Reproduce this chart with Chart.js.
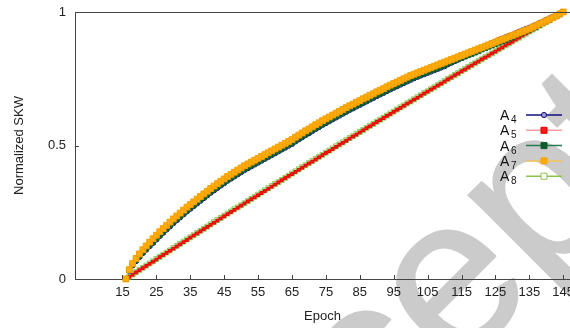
<!DOCTYPE html>
<html>
<head>
<meta charset="utf-8">
<script src="https://cdn.jsdelivr.net/npm/chart.js@4.4.0/dist/chart.umd.min.js"></script>
<style>
  html, body { margin: 0; padding: 0; background: #fff; overflow: hidden; }
  #wrap { width: 570px; height: 328px; }
</style>
</head>
<body>
<div id="wrap"><canvas id="skwChart" width="570" height="328"></canvas></div>
<script>
// Epochs (x) and tick labels
const epochs = [
  16, 17, 18, 19, 20, 21, 22, 23, 24, 25,
  26, 27, 28, 29, 30, 31, 32, 33, 34, 35,
  36, 37, 38, 39, 40, 41, 42, 43, 44, 45,
  46, 47, 48, 49, 50, 51, 52, 53, 54, 55,
  56, 57, 58, 59, 60, 61, 62, 63, 64, 65,
  66, 67, 68, 69, 70, 71, 72, 73, 74, 75,
  76, 77, 78, 79, 80, 81, 82, 83, 84, 85,
  86, 87, 88, 89, 90, 91, 92, 93, 94, 95,
  96, 97, 98, 99, 100, 101, 102, 103, 104, 105,
  106, 107, 108, 109, 110, 111, 112, 113, 114, 115,
  116, 117, 118, 119, 120, 121, 122, 123, 124, 125,
  126, 127, 128, 129, 130, 131, 132, 133, 134, 135,
  136, 137, 138, 139, 140, 141, 142, 143, 144, 145
]
const xTicks = [15, 25, 35, 45, 55, 65, 75, 85, 95, 105, 115, 125, 135, 145]
const yTicks = [0, 0.5, 1]

// Normalized SKW per epoch
const a4 = [
  0.000, 0.031, 0.051, 0.067, 0.082, 0.097, 0.110, 0.123, 0.135, 0.148,
  0.161, 0.173, 0.185, 0.197, 0.209, 0.220, 0.231, 0.242, 0.253, 0.263,
  0.273, 0.283, 0.293, 0.303, 0.313, 0.323, 0.332, 0.341, 0.350, 0.359,
  0.368, 0.376, 0.384, 0.392, 0.400, 0.408, 0.415, 0.422, 0.429, 0.436,
  0.443, 0.450, 0.457, 0.464, 0.471, 0.478, 0.485, 0.492, 0.499, 0.506,
  0.515, 0.523, 0.531, 0.539, 0.546, 0.554, 0.562, 0.569, 0.577, 0.584,
  0.591, 0.598, 0.605, 0.612, 0.619, 0.626, 0.633, 0.639, 0.646, 0.652,
  0.659, 0.665, 0.672, 0.678, 0.685, 0.691, 0.697, 0.704, 0.710, 0.716,
  0.722, 0.728, 0.734, 0.740, 0.746, 0.752, 0.757, 0.762, 0.767, 0.772,
  0.777, 0.782, 0.787, 0.792, 0.797, 0.804, 0.810, 0.816, 0.822, 0.828,
  0.834, 0.840, 0.846, 0.852, 0.858, 0.865, 0.871, 0.877, 0.883, 0.889,
  0.895, 0.900, 0.905, 0.910, 0.915, 0.920, 0.926, 0.931, 0.936, 0.941,
  0.946, 0.952, 0.958, 0.964, 0.970, 0.976, 0.982, 0.988, 0.994, 1.000
]
const a5 = [
  0.000, 0.008, 0.016, 0.025, 0.033, 0.041, 0.049, 0.057, 0.065, 0.073,
  0.082, 0.090, 0.098, 0.106, 0.114, 0.122, 0.130, 0.138, 0.146, 0.155,
  0.163, 0.171, 0.179, 0.187, 0.195, 0.203, 0.211, 0.219, 0.227, 0.235,
  0.243, 0.251, 0.259, 0.267, 0.275, 0.283, 0.291, 0.299, 0.306, 0.314,
  0.322, 0.330, 0.338, 0.346, 0.354, 0.362, 0.370, 0.378, 0.386, 0.393,
  0.401, 0.409, 0.417, 0.425, 0.433, 0.440, 0.448, 0.456, 0.464, 0.472,
  0.479, 0.487, 0.495, 0.503, 0.510, 0.518, 0.526, 0.534, 0.541, 0.549,
  0.557, 0.565, 0.572, 0.580, 0.588, 0.595, 0.603, 0.611, 0.618, 0.626,
  0.634, 0.641, 0.649, 0.657, 0.664, 0.672, 0.679, 0.687, 0.695, 0.702,
  0.710, 0.717, 0.725, 0.732, 0.740, 0.748, 0.755, 0.763, 0.770, 0.778,
  0.785, 0.793, 0.800, 0.808, 0.815, 0.823, 0.830, 0.837, 0.845, 0.852,
  0.860, 0.867, 0.875, 0.882, 0.889, 0.897, 0.904, 0.912, 0.919, 0.926,
  0.934, 0.941, 0.948, 0.956, 0.963, 0.971, 0.978, 0.985, 0.993, 1.000
]
const a6 = [
  0.000, 0.033, 0.054, 0.071, 0.086, 0.101, 0.114, 0.127, 0.139, 0.152,
  0.165, 0.177, 0.189, 0.201, 0.213, 0.224, 0.235, 0.246, 0.257, 0.267,
  0.277, 0.287, 0.297, 0.307, 0.317, 0.327, 0.336, 0.345, 0.354, 0.363,
  0.372, 0.380, 0.388, 0.396, 0.404, 0.412, 0.419, 0.426, 0.433, 0.440,
  0.447, 0.454, 0.461, 0.468, 0.475, 0.482, 0.489, 0.496, 0.503, 0.510,
  0.519, 0.527, 0.535, 0.543, 0.550, 0.558, 0.566, 0.573, 0.581, 0.588,
  0.595, 0.602, 0.609, 0.616, 0.623, 0.630, 0.637, 0.643, 0.650, 0.656,
  0.663, 0.669, 0.676, 0.682, 0.689, 0.695, 0.701, 0.708, 0.714, 0.720,
  0.726, 0.732, 0.738, 0.744, 0.750, 0.756, 0.761, 0.766, 0.771, 0.776,
  0.781, 0.786, 0.791, 0.796, 0.801, 0.808, 0.813, 0.818, 0.823, 0.828,
  0.833, 0.838, 0.843, 0.848, 0.853, 0.860, 0.865, 0.870, 0.875, 0.880,
  0.885, 0.890, 0.895, 0.900, 0.905, 0.913, 0.918, 0.923, 0.928, 0.933,
  0.939, 0.945, 0.951, 0.959, 0.965, 0.971, 0.977, 0.984, 0.991, 1.000
]
const a7 = [
  0.000, 0.035, 0.058, 0.077, 0.094, 0.110, 0.124, 0.138, 0.151, 0.164,
  0.177, 0.189, 0.201, 0.213, 0.225, 0.236, 0.247, 0.258, 0.269, 0.279,
  0.289, 0.299, 0.309, 0.319, 0.329, 0.339, 0.348, 0.357, 0.366, 0.375,
  0.384, 0.392, 0.400, 0.408, 0.416, 0.424, 0.431, 0.438, 0.445, 0.452,
  0.459, 0.466, 0.473, 0.480, 0.487, 0.494, 0.501, 0.508, 0.515, 0.522,
  0.531, 0.539, 0.547, 0.555, 0.562, 0.570, 0.578, 0.585, 0.593, 0.600,
  0.607, 0.614, 0.621, 0.628, 0.635, 0.642, 0.649, 0.655, 0.662, 0.668,
  0.675, 0.681, 0.688, 0.694, 0.701, 0.707, 0.713, 0.720, 0.726, 0.732,
  0.738, 0.744, 0.750, 0.756, 0.762, 0.767, 0.772, 0.777, 0.782, 0.787,
  0.792, 0.797, 0.802, 0.807, 0.812, 0.817, 0.822, 0.827, 0.832, 0.837,
  0.842, 0.847, 0.852, 0.857, 0.862, 0.867, 0.872, 0.877, 0.882, 0.887,
  0.892, 0.897, 0.902, 0.907, 0.912, 0.917, 0.922, 0.927, 0.932, 0.937,
  0.943, 0.949, 0.955, 0.961, 0.967, 0.973, 0.979, 0.986, 0.993, 1.000
]
const a8 = [
  0.000, 0.009, 0.017, 0.026, 0.034, 0.042, 0.050, 0.058, 0.066, 0.075,
  0.083, 0.091, 0.099, 0.107, 0.116, 0.124, 0.132, 0.140, 0.148, 0.156,
  0.164, 0.172, 0.180, 0.188, 0.196, 0.205, 0.213, 0.221, 0.229, 0.237,
  0.245, 0.253, 0.261, 0.268, 0.276, 0.284, 0.292, 0.300, 0.308, 0.316,
  0.324, 0.332, 0.340, 0.348, 0.356, 0.363, 0.371, 0.379, 0.387, 0.395,
  0.403, 0.411, 0.419, 0.426, 0.434, 0.442, 0.450, 0.458, 0.465, 0.473,
  0.481, 0.489, 0.497, 0.504, 0.512, 0.520, 0.528, 0.535, 0.543, 0.551,
  0.558, 0.566, 0.574, 0.581, 0.589, 0.597, 0.604, 0.612, 0.620, 0.627,
  0.635, 0.643, 0.650, 0.658, 0.665, 0.673, 0.681, 0.688, 0.696, 0.703,
  0.711, 0.718, 0.726, 0.733, 0.741, 0.749, 0.756, 0.764, 0.771, 0.779,
  0.786, 0.794, 0.801, 0.808, 0.816, 0.823, 0.831, 0.838, 0.845, 0.853,
  0.860, 0.868, 0.875, 0.882, 0.890, 0.897, 0.904, 0.912, 0.919, 0.927,
  0.934, 0.941, 0.949, 0.956, 0.963, 0.971, 0.978, 0.985, 0.993, 1.000
]

const seriesNames = ['A4', 'A5', 'A6', 'A7', 'A8']
const watermarkText = 'Accepted'

const FONT = '"Liberation Sans", Arial, sans-serif'
const AXIS_COLOR = '#444444'

const toPoints = (vals) => vals.map((v, i) => ({ x: epochs[i], y: v }))

// Series styles (line colour, marker)
const styles = [
  { line: '#10107a', fill: '#9a9ad8', stroke: '#10107a', shape: 'circle', r: 2.6, legendR: 2.6, order: 2 },
  { line: '#f2a0a0', fill: '#ff1a1a', stroke: '#e00000', shape: 'rect', r: 2.0, legendR: 3, order: 3 },
  { line: '#2a7a4e', fill: '#0d5c2e', stroke: '#0d5c2e', shape: 'rect', r: 3.4, legendR: 3, order: 1 },
  { line: '#f4c25a', fill: '#ffab0a', stroke: '#f5a000', shape: 'rect', r: 4.1, legendR: 3, order: 0 },
  { line: '#8cc34a', fill: 'rgba(255,255,255,0)', stroke: '#8cc650', shape: 'rect', r: 3.4, legendR: 3, order: 4 }
]
const seriesValues = [a4, a5, a6, a7, a8]

const datasets = seriesNames.map((name, i) => ({
  label: name,
  data: toPoints(seriesValues[i]),
  borderColor: styles[i].line,
  borderWidth: 1,
  pointStyle: styles[i].shape,
  pointRadius: styles[i].r,
  pointBackgroundColor: styles[i].fill,
  pointBorderColor: styles[i].stroke,
  pointBorderWidth: 1,
  fill: false,
  tension: 0,
  clip: false,
  order: styles[i].order
}))

// Big grey watermark behind everything (only "ep" of it falls in view)
const watermark = {
  id: 'watermark',
  beforeDraw(chart) {
    const { ctx } = chart
    ctx.save()
    ctx.font = '220px ' + FONT
    const lead = ctx.measureText('Acc').width
    ctx.translate(454, 374)
    ctx.rotate(-Math.PI / 4)
    ctx.fillStyle = '#cbcbcb'
    ctx.strokeStyle = '#cbcbcb'
    ctx.lineWidth = 2
    ctx.lineJoin = 'round'
    ctx.textBaseline = 'alphabetic'
    ctx.fillText(watermarkText, -lead, 0)
    ctx.strokeText(watermarkText, -lead, 0)
    ctx.restore()
  }
}

// Top border and inward tick marks
const frame = {
  id: 'frame',
  afterDraw(chart) {
    const { ctx, chartArea } = chart
    const xs = chart.scales.x
    const ys = chart.scales.y
    ctx.save()
    ctx.strokeStyle = AXIS_COLOR
    ctx.lineWidth = 1
    ctx.beginPath()
    ctx.moveTo(chartArea.left, chartArea.top + 0.5)
    ctx.lineTo(chartArea.right, chartArea.top + 0.5)
    xTicks.forEach((t) => {
      const px = Math.round(xs.getPixelForValue(t)) + 0.5
      ctx.moveTo(px, chartArea.bottom)
      ctx.lineTo(px, chartArea.bottom - 4)
    })
    yTicks.forEach((t) => {
      const py = Math.round(ys.getPixelForValue(t)) + 0.5
      ctx.moveTo(chartArea.left, py)
      ctx.lineTo(chartArea.left + 4, py)
    })
    ctx.stroke()
    ctx.restore()
  }
}

// Legend: "A" with subscript, then line sample with marker
const skwLegend = {
  id: 'skwLegend',
  afterDraw(chart) {
    const { ctx } = chart
    seriesNames.forEach((name, i) => {
      const y = 115 + i * 15.3
      const st = styles[i]
      ctx.save()
      ctx.fillStyle = '#111'
      ctx.textAlign = 'left'
      ctx.textBaseline = 'alphabetic'
      ctx.font = '14px ' + FONT
      ctx.fillText(name.slice(0, 1), 500, y + 5)
      ctx.font = '10px ' + FONT
      ctx.fillText(name.slice(1), 511, y + 8)

      ctx.strokeStyle = st.line
      ctx.lineWidth = 1.5
      ctx.beginPath()
      ctx.moveTo(526, y)
      ctx.lineTo(562, y)
      ctx.stroke()

      ctx.fillStyle = i === 4 ? '#ffffff' : st.fill
      ctx.strokeStyle = st.stroke
      ctx.lineWidth = 1
      ctx.beginPath()
      if (st.shape === 'circle') {
        ctx.arc(544, y, st.legendR, 0, Math.PI * 2)
      } else {
        const s = st.legendR
        ctx.rect(544 - s, y - s, 2 * s, 2 * s)
      }
      ctx.fill()
      ctx.stroke()
      ctx.restore()
    })
  }
}

const ctx = document.getElementById('skwChart').getContext('2d')

new Chart(ctx, {
  type: 'line',
  data: { datasets },
  options: {
    responsive: false,
    animation: false,
    devicePixelRatio: 1,
    layout: { autoPadding: false, padding: { top: 12, right: 0, bottom: 0, left: 0 } },
    plugins: {
      legend: { display: false },
      tooltip: { enabled: false }
    },
    scales: {
      x: {
        type: 'linear',
        min: 1,
        max: 147,
        afterBuildTicks: (scale) => {
          scale.ticks = xTicks.map((v) => ({ value: v }))
        },
        afterFit: (scale) => {
          scale.paddingLeft = 0
          scale.paddingRight = 0
          scale.height = 49
        },
        grid: { display: false, drawTicks: false },
        border: { display: true, color: AXIS_COLOR, width: 1 },
        ticks: {
          autoSkip: false,
          maxRotation: 0,
          padding: 6,
          color: '#222',
          font: { family: FONT, size: 13 },
          callback: (v) => String(v)
        },
        title: {
          display: true,
          text: 'Epoch',
          color: '#222',
          font: { family: FONT, size: 13 },
          padding: { top: 0, bottom: 4 }
        }
      },
      y: {
        min: 0,
        max: 1,
        afterBuildTicks: (scale) => {
          scale.ticks = yTicks.map((v) => ({ value: v }))
        },
        afterFit: (scale) => {
          scale.width = 75
          scale.paddingTop = 0
          scale.paddingBottom = 0
        },
        grid: { display: false, drawTicks: false },
        border: { display: true, color: AXIS_COLOR, width: 1 },
        ticks: {
          padding: 9,
          color: '#222',
          font: { family: FONT, size: 13 },
          callback: (v) => String(v)
        },
        title: {
          display: true,
          text: 'Normalized SKW',
          color: '#222',
          font: { family: FONT, size: 13 },
          padding: { top: 12, bottom: 0 }
        }
      }
    }
  },
  plugins: [watermark, frame, skwLegend]
})
</script>
</body>
</html>
